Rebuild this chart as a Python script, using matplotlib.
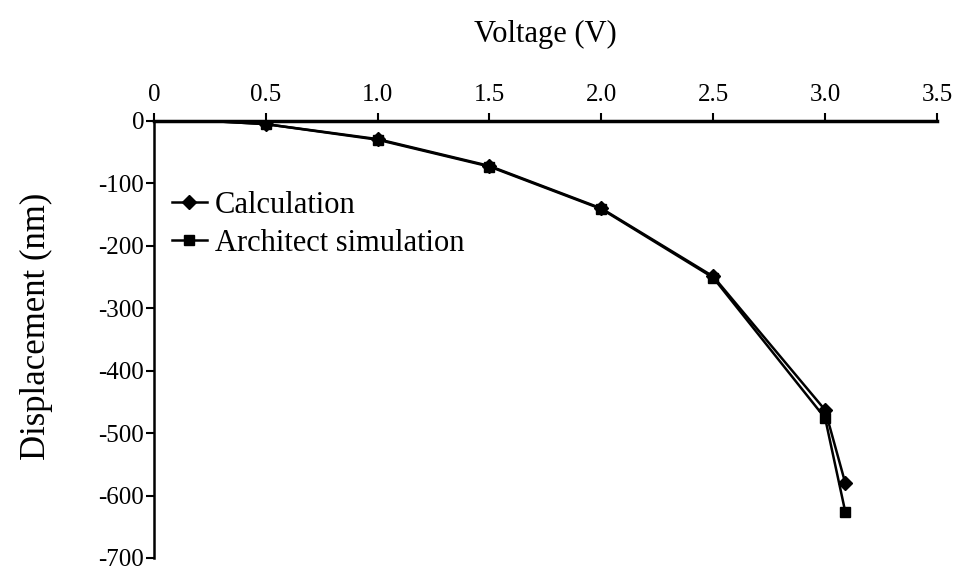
import matplotlib
matplotlib.use("Agg")
import matplotlib.pyplot as plt

# values
voltage = [0.25, 0.5, 1.0, 1.5, 2.0, 2.5, 3.0, 3.09]
disp_calc = [0, -5, -29, -72, -140, -249, -463, -580]
disp_sim = [0, -5, -30, -73, -141, -251, -476, -626]

x_ticks = [0, 0.5, 1.0, 1.5, 2.0, 2.5, 3.0, 3.5]
x_labels = ["0", "0.5", "1.0", "1.5", "2.0", "2.5", "3.0", "3.5"]
y_ticks = [0, -100, -200, -300, -400, -500, -600, -700]

plt.rcParams['font.family'] = ['Liberation Serif', 'DejaVu Serif']

fig = plt.figure(figsize=(9.67, 5.75), dpi=100)
ax = fig.add_axes([0.159, 0.0296, 0.81, 0.76])

ax.plot(voltage, disp_calc, color="black", lw=1.8, marker="D", ms=7,
        markevery=list(range(1, len(voltage))), label="Calculation")
ax.plot(voltage, disp_sim, color="black", lw=1.8, marker="s", ms=7,
        markevery=list(range(1, len(voltage))), label="Architect simulation")

ax.set_xlim(0, 3.5)
ax.set_ylim(-700, 0)
ax.xaxis.tick_top()
ax.xaxis.set_label_position("top")
ax.set_xticks(x_ticks)
ax.set_xticklabels(x_labels)
ax.set_yticks(y_ticks)
ax.set_yticklabels([str(v) for v in y_ticks])
ax.tick_params(axis="both", direction="out", length=6, width=1.5,
               labelsize=18, pad=1)
ax.tick_params(axis="x", pad=5)

for s in ["right", "bottom"]:
    ax.spines[s].set_visible(False)
ax.spines["top"].set_linewidth(2.5)
ax.spines["left"].set_linewidth(1.8)

ax.set_xlabel("Voltage (V)", fontsize=22, labelpad=30)
ax.set_ylabel("Displacement (nm)", fontsize=25)
ax.yaxis.set_label_coords(-0.128, 0.53)

ax.legend(loc="upper left", bbox_to_anchor=(0.023, 0.84), frameon=False,
          fontsize=22, handlelength=1.15, handletextpad=0.25,
          borderpad=0, borderaxespad=0, labelspacing=0.3)

fig.savefig("out.png", dpi=100)
